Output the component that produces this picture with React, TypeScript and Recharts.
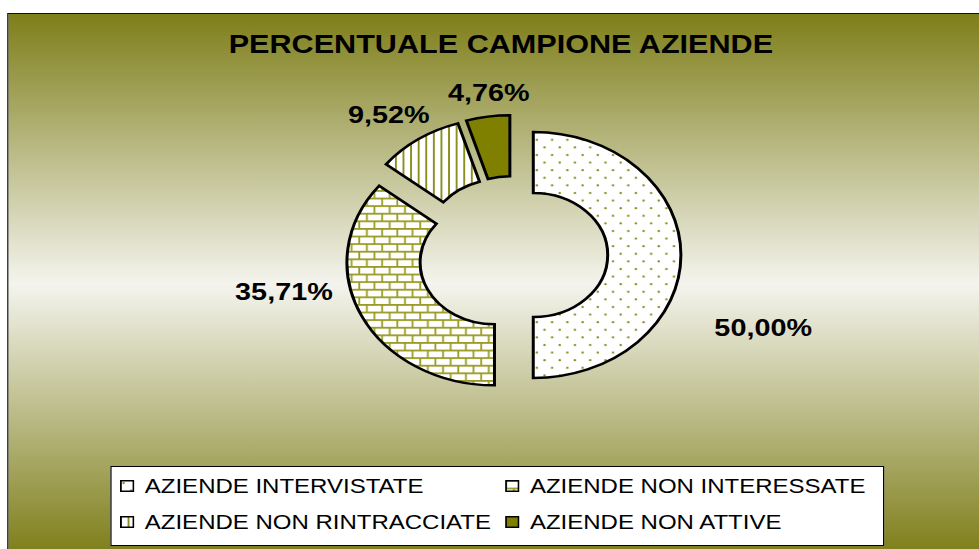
import { PieChart, Pie, Cell, Legend } from "recharts";

const title = "PERCENTUALE CAMPIONE AZIENDE";
const categories = [
  "AZIENDE INTERVISTATE",
  "AZIENDE NON INTERESSATE",
  "AZIENDE NON RINTRACCIATE",
  "AZIENDE NON ATTIVE",
];
const percentages = [50.0, 35.71, 9.52, 4.76];

const fills = ["url(#dots)", "url(#bricks)", "url(#vstripes)", "#808000"];
const OLIVE = "#808000";

// the original is stretched horizontally, so everything is laid out narrower and scaled in x
const W = 816;
const H = 549;
const SX = 979 / W;
const CX = 427.5;
const CY = 255;
const INNER = 62;
const OUTER = 123;
const EXPLODE = 17;
// where excel put the labels: angle shift from slice middle (clockwise deg) and distance
const labelPlacement = [
  { shift: 20.8, r: 205 },
  { shift: 16.1, r: 178 },
  { shift: -2.4, r: 157 },
  { shift: 1.7, r: 146 },
];

const total = percentages.reduce((a, b) => a + b, 0);
let acc = 0;
const slices = percentages.map((v, i) => {
  const start = (acc / total) * 360;
  acc += v;
  const end = (acc / total) * 360;
  const mid = (((start + end) / 2) * Math.PI) / 180;
  return {
    name: categories[i],
    value: v,
    startAngle: 90 - start,
    endAngle: 90 - end,
    cx: CX + EXPLODE * Math.sin(mid),
    cy: CY - EXPLODE * Math.cos(mid),
  };
});

const fmt = (v: number) => v.toFixed(2).replace(".", ",") + "%";

const makeLabel = (i: number) => (props: any) => {
  const { cx, cy, midAngle, value } = props;
  const { shift, r } = labelPlacement[i];
  const a = ((90 - midAngle + shift) * Math.PI) / 180;
  return (
    <text
      x={cx + r * Math.sin(a)}
      y={cy - r * Math.cos(a)}
      textAnchor="middle"
      dominantBaseline="central"
      fontFamily="'Liberation Sans', Arial, sans-serif"
      fontWeight="bold"
      fontSize={24}
      fill="#000"
    >
      {fmt(value)}
    </text>
  );
};

function Patterns() {
  return (
    <svg width={0} height={0} style={{ position: "absolute" }}>
      <defs>
        <pattern id="dots" patternUnits="userSpaceOnUse" width={12.7} height={15.2}>
          <rect width={12.7} height={15.2} fill="#fff" />
          <circle cx={3} cy={3} r={1.1} fill="#8a8a1a" />
          <circle cx={9.35} cy={10.6} r={1.1} fill="#8a8a1a" />
        </pattern>
        <pattern id="bricks" patternUnits="userSpaceOnUse" width={12.7} height={15.2}>
          <rect width={12.7} height={15.2} fill="#fff" />
          <g stroke="#9a9a24">
            <line x1={0} y1={0.9} x2={12.7} y2={0.9} strokeWidth={1.8} />
            <line x1={0} y1={8.5} x2={12.7} y2={8.5} strokeWidth={1.8} />
            <line x1={1} y1={0.9} x2={1} y2={8.5} strokeWidth={1.5} />
            <line x1={7.35} y1={8.5} x2={7.35} y2={15.2} strokeWidth={1.5} />
          </g>
        </pattern>
        <pattern id="vstripes" patternUnits="userSpaceOnUse" width={6.33} height={10}>
          <rect width={6.33} height={10} fill="#fff" />
          <rect x={0} y={0} width={1.6} height={10} fill="#8e8e20" />
        </pattern>
      </defs>
    </svg>
  );
}

function LegendBox() {
  return (
    <div
      style={{
        width: 645,
        height: 80,
        boxSizing: "border-box",
        background: "#fff",
        border: "1px solid #000",
        display: "grid",
        gridTemplateColumns: "321px 1fr",
        gridTemplateRows: "36px 36px",
        paddingTop: 1,
        paddingLeft: 7,
        fontFamily: "'Liberation Sans', Arial, sans-serif",
        fontSize: 20,
        color: "#000",
      }}
    >
      {categories.map((c, i) => (
        <div key={c} style={{ display: "flex", alignItems: "center", whiteSpace: "nowrap" }}>
          <svg width={12} height={12} style={{ marginRight: 9, flex: "none" }}>
            <rect x={0.75} y={0.75} width={10.5} height={10.5} fill={fills[i]} stroke="#000" strokeWidth={1.5} />
          </svg>
          <span>{c}</span>
        </div>
      ))}
    </div>
  );
}

export default function App() {
  return (
    <div style={{ position: "absolute", left: 0, top: 0, width: 979, height: 549, overflow: "hidden" }}>
      <div
        style={{
          position: "absolute",
          left: 0,
          top: 0,
          width: W,
          height: H,
          transform: `scaleX(${SX})`,
          transformOrigin: "0 0",
        }}
      >
        <Patterns />
        <div
          style={{
            position: "absolute",
            left: 6,
            top: 13,
            width: 830,
            height: 540,
            border: "1px solid #111",
            background: "linear-gradient(to bottom, #7e7e1a 0%, #f4f4ee 50%, #7e7e1a 100%)",
          }}
        />
        <div style={{ position: "absolute", left: 0, top: 0 }}>
          <PieChart width={W} height={H} margin={{ top: 0, right: 0, bottom: 0, left: 0 }}>
            <text
              x={417.5}
              y={44}
              textAnchor="middle"
              dominantBaseline="central"
              fontFamily="'Liberation Sans', Arial, sans-serif"
              fontWeight="bold"
              fontSize={25.5}
              fill="#000"
            >
              {title}
            </text>
            {slices.map((s, i) => (
              <Pie
                key={s.name}
                data={[s]}
                dataKey="value"
                nameKey="name"
                cx={s.cx}
                cy={s.cy}
                innerRadius={INNER}
                outerRadius={OUTER}
                startAngle={s.startAngle}
                endAngle={s.endAngle}
                stroke="#000"
                strokeWidth={2.5}
                label={makeLabel(i)}
                labelLine={false}
                isAnimationActive={false}
              >
                <Cell fill={fills[i]} />
              </Pie>
            ))}
            <Legend
              content={() => <LegendBox />}
              wrapperStyle={{ left: 91.7, top: 466, width: 645, height: 80 }}
            />
          </PieChart>
        </div>
      </div>
    </div>
  );
}
